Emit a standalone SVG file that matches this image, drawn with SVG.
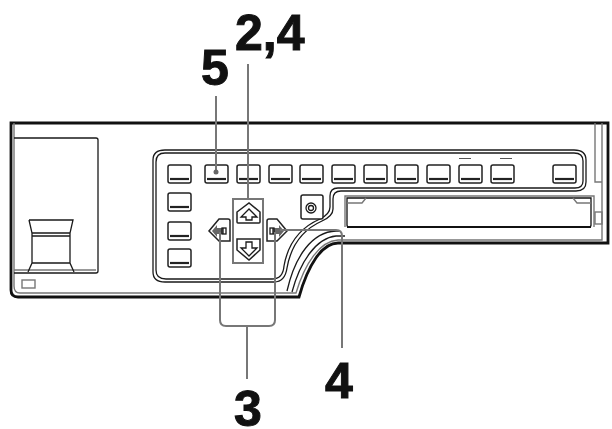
<svg xmlns="http://www.w3.org/2000/svg" width="612" height="429" viewBox="0 0 612 429">
<style>
.o{fill:none;stroke:#1a1a1a;stroke-width:1.3}
.k{fill:none;stroke:#111;stroke-width:2.8}
.g{fill:none;stroke:#777;stroke-width:1.4}
.l{fill:none;stroke:#777;stroke-width:2}
.b{fill:#fff;stroke:#222;stroke-width:1.5}
.n{font:bold 50px "Liberation Sans",Arial,sans-serif;fill:#111;stroke:#111;stroke-width:1}
</style>
<defs>
<g id="btn"><rect x="0" y="0" width="23" height="18" rx="2" class="b"/><path d="M2 14H21" stroke="#222" stroke-width="2.200"/></g>
</defs>
<rect width="612" height="429" fill="#fff"/>
<g id="chassis">
<path d="M11 123H608V243H338C322 243 308 265 299 297H18Q11 297 11 290Z" class="k" fill="#fff"/>
<path d="M14 123V286Q14 293 20 293H296C305 263 320 241 338 240H602V123" class="g"/>
<path d="M287 291C295 256 312 232 336 231H340" class="o"/>
<path d="M292 292C300 262 316 238 336 236H345" class="o"/>
<path d="M595 123V182H602" class="g"/>
<rect x="595" y="212" width="7" height="12" class="g"/>
</g>
<g id="left-block">
<path d="M14 138H96Q98 138 98 140V271Q98 273 96 273H14" class="o"/>
<path d="M14 270H96" class="g"/>
<path d="M29 220H73L70 233V263L74 272M29 220L32 233V263L28 272M32 263H70M32 233H70M32 236H70" class="o"/>
<rect x="22" y="280" width="13" height="8" class="g"/>
</g>
<g id="panel">
<path d="M165 150H574Q586 150 586 160V182Q586 191 576 191H341Q333 191 333 199V209Q333 216 322 221Q293 234 287 268Q285 282 274 282H165Q153 282 153 272V160Q153 150 165 150Z" class="o" stroke-width="1.500"/>
<path d="M165 153H574Q583 153 583 161V181Q583 188 575 188H338Q330 188 330 196V207Q330 214 320 219Q290 232 284 266Q283 279 272 279H166Q156 279 156 270V162Q156 153 165 153Z" class="o"/>
</g>
<g id="buttons">
<use href="#btn" x="168" y="165"/><use href="#btn" x="205" y="165"/><use href="#btn" x="237" y="165"/><use href="#btn" x="269" y="165"/><use href="#btn" x="300" y="165"/><use href="#btn" x="332" y="165"/><use href="#btn" x="364" y="165"/><use href="#btn" x="395" y="165"/><use href="#btn" x="427" y="165"/><use href="#btn" x="459" y="165"/><use href="#btn" x="491" y="165"/><use href="#btn" x="553" y="165"/>
<use href="#btn" x="168" y="193"/><use href="#btn" x="168" y="222"/><use href="#btn" x="168" y="249"/>
<path d="M459 158.500H471M500 158.500H512" stroke="#555" stroke-width="1"/>
</g>
<g id="knob"><rect x="301" y="195" width="22" height="24" rx="2" class="b"/><circle cx="311" cy="208" r="5" class="o" stroke-width="1.800"/><circle cx="311" cy="208" r="2.500" class="o"/></g>
<g id="slot">
<path d="M345 227V196H594V227" class="g"/>
<path d="M347 198H591V225Q591 227 589 227H349Q347 227 347 225Z" fill="#fff" stroke="#111" stroke-width="1.300"/>
<path d="M347 203H362L366 198M591 203H577L573 198" class="g"/>
<path d="M347 227H591" stroke="#111" stroke-width="2"/>
</g>
<g id="keys">
<path d="M238 223Q237 223 237 222V212L249 203L260 212V222Q260 223 259 223Z" class="b"/><path d="M249 209L241 217H246V220H252V217H257Z" class="o"/>
<path d="M237 239H260V250L249 260L237 250Z" class="b"/><path d="M249 256L241 248H246V242H252V248H257Z" class="o"/>
<path d="M230 221V241H219L209 231L219 219H228Q230 219 230 221Z" class="b"/><path d="M217 225L212 231L217 237V234H224V228H217Z" fill="#666"/><rect x="222" y="228" width="4" height="6" class="o"/>
<path d="M267 221V241H277L287 231L277 219H269Q267 219 267 221Z" class="b"/><path d="M279 225L284 231L279 237V234H272V228H279Z" fill="#666"/><rect x="270" y="228" width="4" height="6" class="o"/>
</g>
<g id="connectors">
<path d="M216 96V172" class="l"/><circle cx="216" cy="172" r="2.500" fill="#666"/>
<path d="M248 64V199" class="l"/>
<rect x="233" y="199" width="30" height="64" class="l"/>
<path d="M220 232V320Q220 326 226 326H269Q275 326 275 320V232M247 326V379" class="l"/>
<path d="M280 230H336Q342 230 342 236V348" class="l"/>
</g>
<g id="labels">
<text class="n" x="235" y="50">2,4</text>
<text class="n" x="201" y="85">5</text>
<text class="n" x="325" y="398">4</text>
<text class="n" x="234" y="426">3</text>
</g>
</svg>
